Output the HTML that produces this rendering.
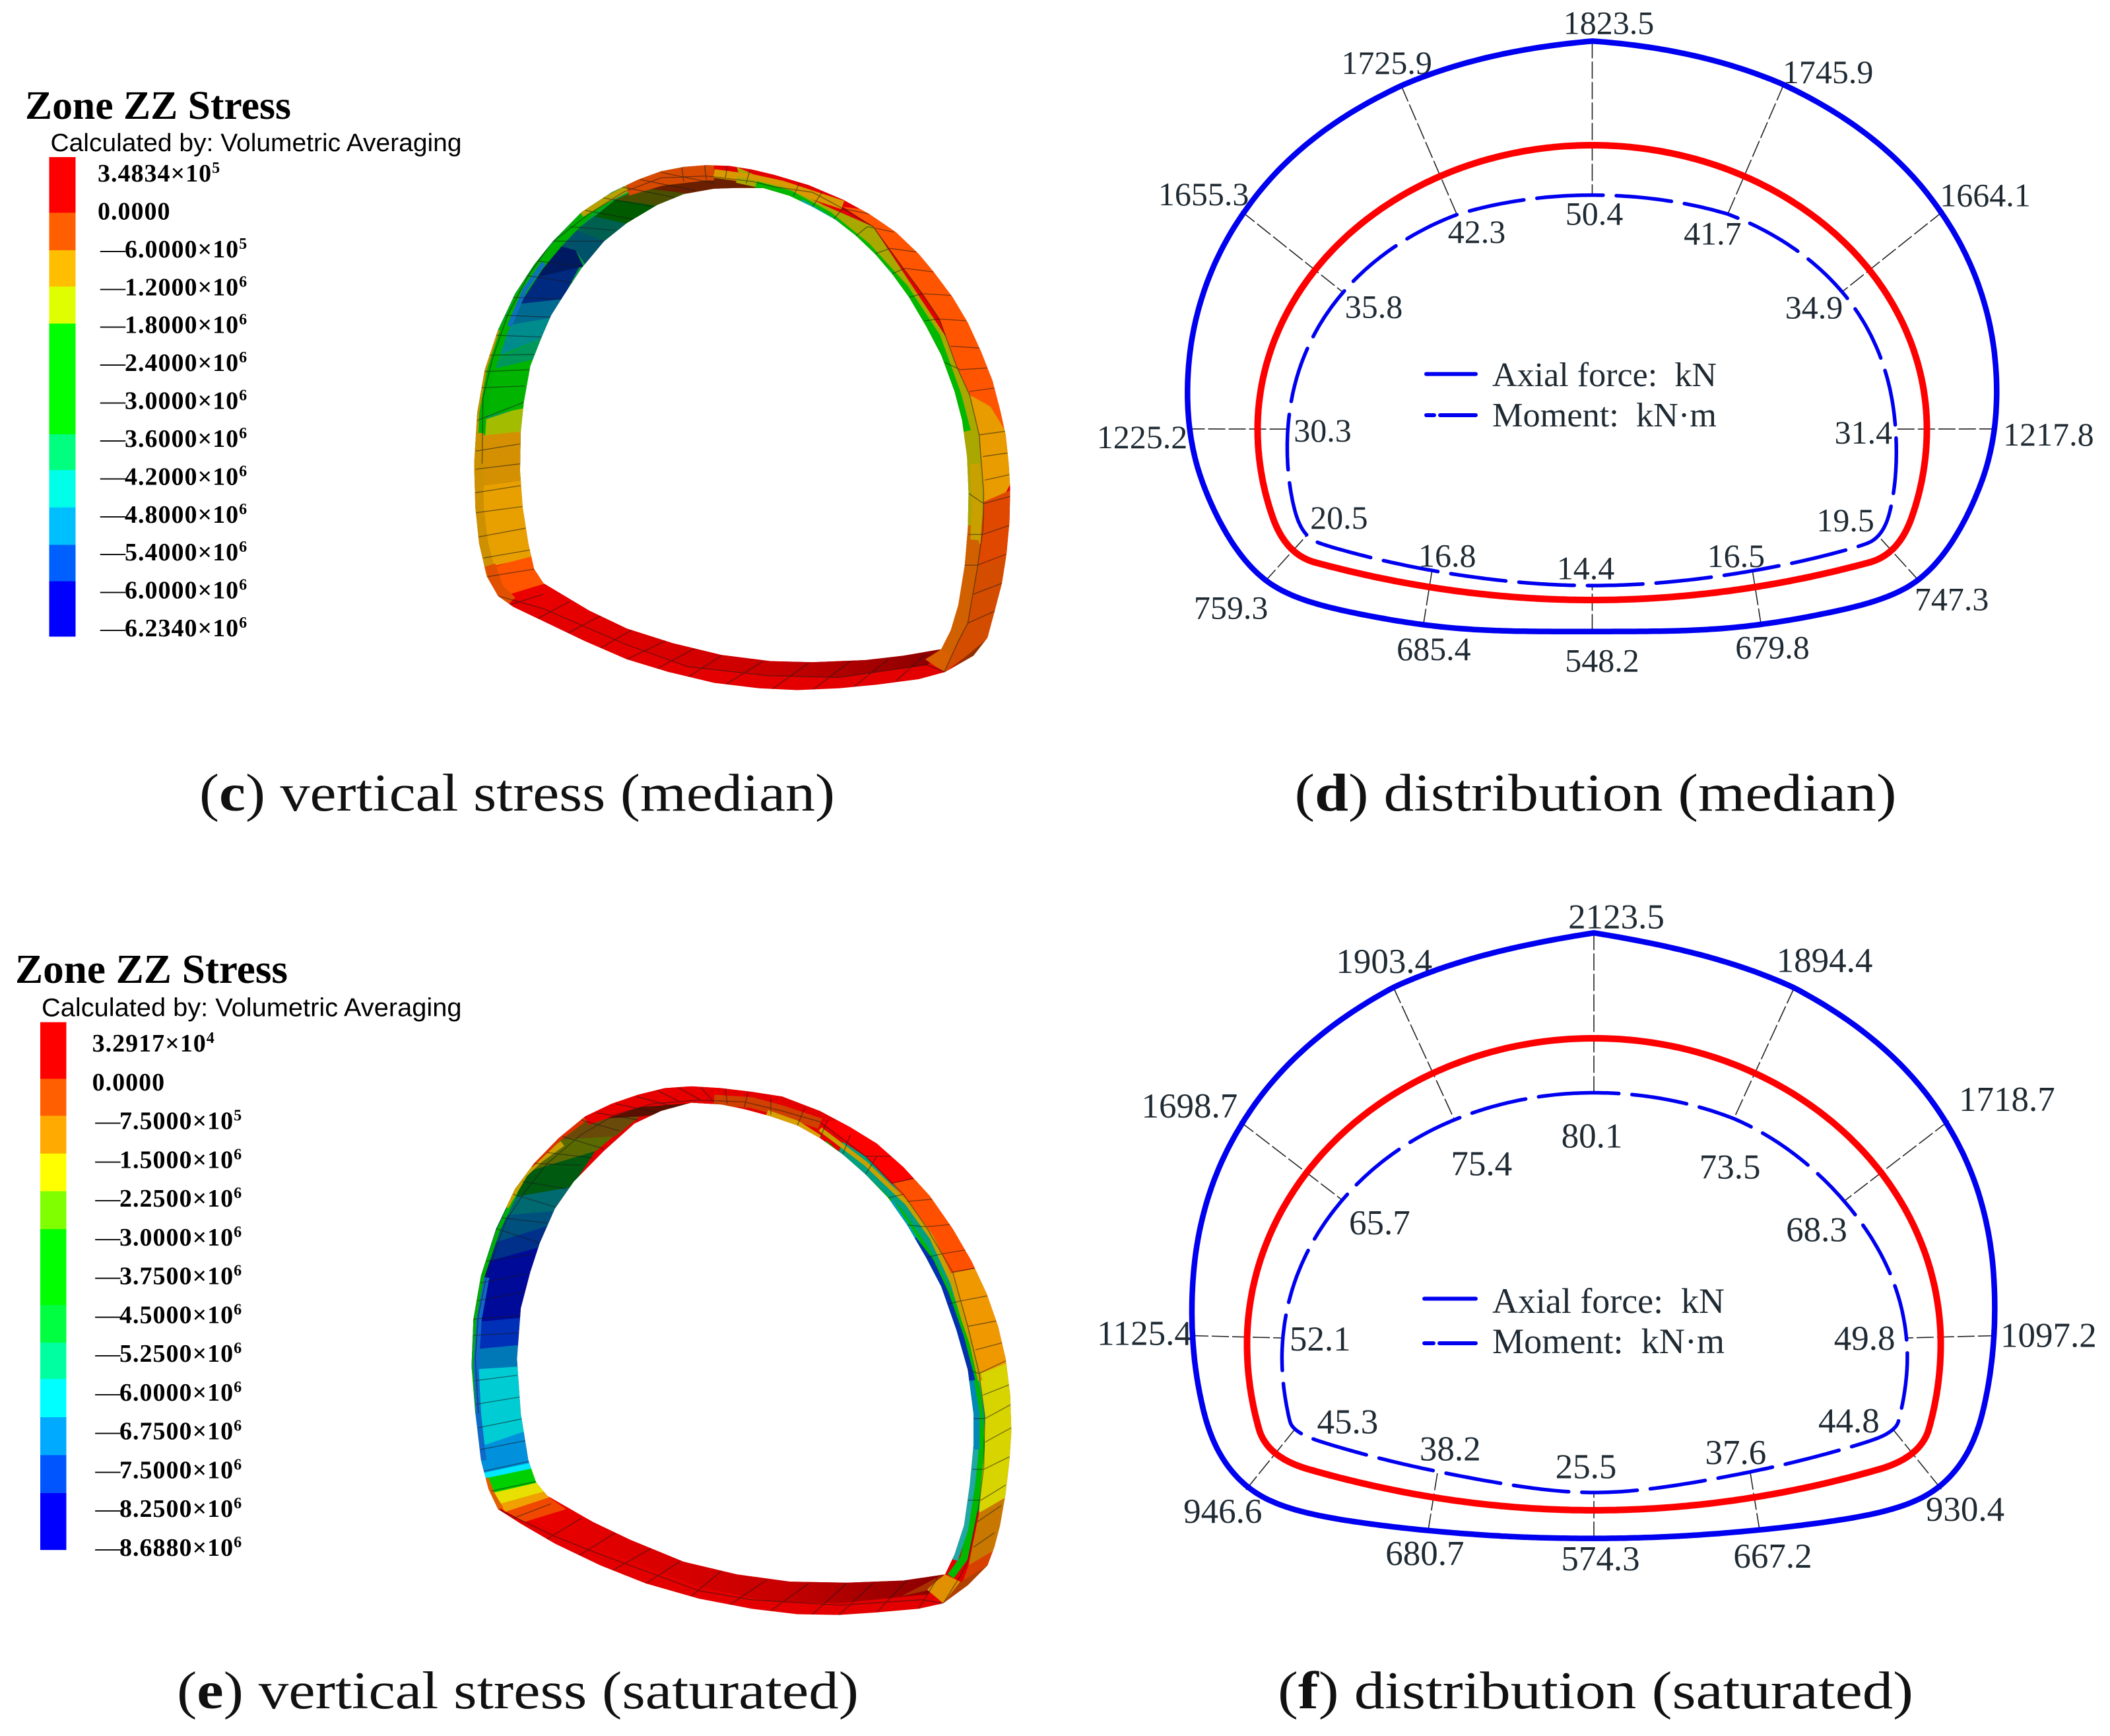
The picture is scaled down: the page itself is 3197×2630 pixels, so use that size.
<!DOCTYPE html>
<html lang="en">
<head>
<meta charset="utf-8">
<title>Tunnel lining stress and internal force distribution</title>
<style>
html,body{margin:0;padding:0;background:#fff}
svg{display:block}
.lbl{font-family:"Liberation Serif",serif;fill:#1f2a33;text-anchor:middle}
.cap{font-family:"Liberation Serif",serif;font-size:80px;fill:#111}
.leg{font-family:"Liberation Serif",serif;fill:#1f2a33}
.title{font-family:"Liberation Serif",serif;font-weight:bold;fill:#000}
.sub{font-family:"Liberation Sans",sans-serif;fill:#000}
.scale{font-family:"Liberation Serif",serif;font-weight:bold;font-size:38px;letter-spacing:1px;fill:#000}
</style>
</head>
<body>
<svg id="fig" xmlns="http://www.w3.org/2000/svg" width="3197" height="2630" viewBox="0 0 3197 2630">
<defs>
<linearGradient id="floorC" gradientUnits="userSpaceOnUse" x1="250" y1="0" x2="1280" y2="0"><stop offset="0" stop-color="#ea0000"/><stop offset=".6" stop-color="#c80000"/><stop offset="1" stop-color="#8c0000"/></linearGradient>
<clipPath id="clipC"><path clip-rule="evenodd" d="M680 55L740 57 800 67 860 82 950 110 1040 150 1110 190 1180 240 1240 300 1280 350 1330 420 1370 490 1405 570 1435 650 1455 730 1470 800 1478 880 1482 950 1480 1040 1472 1130 1460 1210 1440 1290 1422 1360 1385 1410 1310 1455 1240 1475 1130 1490 1030 1500 920 1505 820 1500 700 1485 580 1455 470 1420 360 1370 250 1315 170 1275 130 1245 100 1190 80 1100 70 1000 67 880 75 740 95 620 130 510 175 410 225 330 275 265 350 185 430 130 500 95 560 72 620 60ZM700 120L620 135 550 165 470 215 410 265 350 340 300 420 270 470 245 530 215 610 198 710 190 790 188 900 195 1000 210 1100 225 1170 250 1210 370 1285 470 1335 590 1375 720 1408 850 1425 960 1428 1100 1422 1200 1410 1300 1392 1325 1340 1345 1270 1362 1160 1370 1060 1372 960 1368 860 1355 760 1335 680 1300 580 1260 500 1215 420 1170 355 1125 300 1075 250 1020 205 960 170 900 140 830 118 760 118Z"/></clipPath>
<clipPath id="clipE"><path clip-rule="evenodd" d="M640 47L720 52 800 62 880 75 980 115 1060 160 1130 205 1200 270 1270 350 1330 440 1380 530 1420 620 1450 710 1470 800 1482 900 1485 1000 1480 1080 1470 1170 1455 1260 1440 1320 1422 1370 1370 1425 1305 1475 1240 1490 1130 1500 1030 1507 920 1505 800 1490 660 1462 520 1420 400 1370 280 1310 190 1255 130 1215 105 1160 85 1080 70 950 60 820 65 690 85 570 125 440 175 330 225 260 290 190 360 130 430 95 500 70 570 52ZM720 97L640 92 560 115 490 150 410 225 330 310 280 385 240 480 215 560 190 660 180 800 190 950 210 1080 230 1140 260 1178 380 1250 480 1300 620 1360 760 1395 900 1415 1050 1418 1200 1412 1310 1395 1335 1340 1360 1260 1375 1150 1385 1040 1385 950 1370 830 1340 720 1300 600 1260 520 1210 430 1160 355 1100 290 1040 235 980 190 920 155 850 130 780 110Z"/></clipPath>
</defs>
<rect width="3197" height="2630" fill="#fff"/>

<g id="legendC">
<text class="title" x="38" y="180" font-size="61" textLength="403" lengthAdjust="spacingAndGlyphs">Zone ZZ Stress</text>
<text class="sub" x="76.5" y="229" font-size="38" textLength="623" lengthAdjust="spacingAndGlyphs">Calculated by: Volumetric Averaging</text>
</g>
<g id="legendE">
<text class="title" x="23" y="1489" font-size="62" textLength="413" lengthAdjust="spacingAndGlyphs">Zone ZZ Stress</text>
<text class="sub" x="63" y="1539.4" font-size="39" textLength="636.5" lengthAdjust="spacingAndGlyphs">Calculated by: Volumetric Averaging</text>
</g>

<g transform="translate(680 220) scale(.574 .5485)">
<g clip-path="url(#clipC)">
<rect x="0" y="0" width="1560" height="1560" fill="#e40000"/>
<path fill="#00a040" d="M0 0L640 0 640 140 500 700 260 1000 0 800Z"/>
<path fill="#a8a800" d="M760 60L1120 225 1420 700 1420 1180 1250 1180 1250 700 800 200Z"/>
<path fill="#d06000" d="M1250 1050L1420 1050 1420 1400 1250 1400Z"/>
<path fill="url(#floorC)" d="M140 1240L250 1205 370 1280 590 1370 850 1420 1100 1418 1300 1388 1265 1435 1030 1470 840 1465 630 1440 470 1380 250 1280Z"/>
<g>
<path fill="#ff5500" d="M90 1175L222 1130 262 1208 130 1250Z"/>
<path fill="#e8a000" d="M70 920L205 900 222 1135 110 1165Z"/>
<path fill="#d49000" d="M60 805L200 785 205 925 60 945Z"/>
<path fill="#a4bc00" d="M60 770L205 720 200 790 60 805Z"/>
<path fill="#00b400" d="M60 620L230 585 205 725 60 755Z"/>
<path fill="#00985a" d="M90 615L255 525 230 590 90 625Z"/>
<path fill="#008c8c" d="M110 590L150 480 285 465 250 530Z"/>
<path fill="#006a90" d="M140 500L180 425 310 415 280 475Z"/>
<path fill="#002a80" d="M170 440L215 360 345 335 300 425Z"/>
<path fill="#001a62" d="M210 370L280 270 335 290 355 335Z"/>
<path fill="#00526a" d="M280 275L335 232 425 265 360 330 335 290Z"/>
<path fill="#006050" d="M335 235L385 195 475 215 425 270Z"/>
<path fill="#005a00" d="M385 197L440 150 555 165 475 218Z"/>
<path fill="#4a4f00" d="M440 150L510 118 645 130 555 168Z"/>
<path fill="#6a2000" d="M510 118L560 90 700 85 860 125 640 135Z"/>
</g>
<g>
<path fill="#ff5500" d="M1040 170L1115 180 1300 330 1500 760 1470 790 1430 722 1375 690 1340 610 1295 480 1250 410 1200 340 1120 225Z"/>
<path fill="#e89c00" d="M1375 690L1430 722 1470 790 1500 900 1470 960 1412 985 1400 800Z"/>
<path fill="#e04800" d="M1412 985L1500 945 1490 1130 1398 1165Z"/>
<path fill="#d44c00" d="M1398 1165L1490 1130 1450 1300 1425 1365 1310 1455 1345 1370 1370 1320Z"/>
<path fill="#903000" d="M1430 1355L1385 1420 1310 1460Z"/>
<path fill="#d86000" d="M1258 1420L1300 1392 1345 1370 1310 1455 1285 1440Z"/>
</g>
<g fill="none" stroke-linejoin="round">
<path stroke="#00b000" stroke-width="24" d="M84 800L88 740 108 625 143 515 188 415 238 335 288 272 358 195 425 145"/>
<path stroke="#1070c0" stroke-width="12" d="M160 500L200 400 250 325"/>
<path stroke="#c89000" stroke-width="9" d="M70 880L76 740 96 620 130 510"/>
<path stroke="#cc9000" stroke-width="28" d="M78 795L78 1000 90 1100 112 1190"/>
<path stroke="#e05000" stroke-width="30" d="M108 1160L130 1225 165 1260"/>
<path stroke="#b8a000" stroke-width="18" d="M350 190L425 145 490 110"/>
<path stroke="#d84a00" stroke-width="44" d="M470 118L560 90 680 75 700 75"/>
<path stroke="#d89a00" stroke-width="24" d="M700 78L800 92 880 110 1040 165"/>
<path stroke="#a8a800" stroke-width="18" d="M760 95L880 122 980 170 1090 262 1190 370 1280 500 1340 640 1378 780 1395 900"/>
<path stroke="#00b800" stroke-width="26" d="M810 112L900 138 1000 195 1100 280 1200 395 1285 530 1340 690 1365 790"/>
<path stroke="#00a8a0" stroke-width="14" d="M930 155L1020 212 1100 288 1165 358"/>
<path stroke="#c8a000" stroke-width="28" d="M1390 880L1394 1000 1390 1100"/>
<path stroke="#d06000" stroke-width="30" d="M1385 1090L1370 1220 1340 1345 1310 1400"/>
</g>
<path fill="none" stroke="#1a1a1a" stroke-opacity=".55" stroke-width="2.4" d="M1040 175L1120 225 1200 340 1250 410 1295 480 1340 610 1375 690 1400 800 1412 960 1410 1060 1395 1170 1370 1320 1345 1370 1308 1455M88 880L90 700 115 590 155 470 210 360 270 270 370 190 460 130 560 90 680 85 800 100 860 115 960 130 1040 175M130 1245L250 1280 470 1380 630 1440 840 1465 1030 1470 1260 1435 1310 1455M70 845L188 825M70 895L188 880M70 960L190 940M72 1015L195 998M78 1082L202 1058M92 1140L214 1118M100 1192L230 1170M75 760L198 710M85 670L200 665M95 625L215 620M105 580L225 578M125 525L250 530M150 470L275 475M170 420L300 425M205 360L330 380M235 320L350 335M275 265L415 265M320 225L440 235M360 180L490 205M405 145L540 170M455 115L600 145M505 95L650 125M560 75L700 105M615 60L620 100M675 55L680 95M735 58L730 92M795 68L785 105M1040 175L1110 190M1105 225L1175 240M1165 285L1235 295M1205 340L1280 350M1250 410L1330 415M1295 480L1365 485M1325 555L1400 560M1350 620L1425 615M1375 680L1445 670M1400 800L1470 790M1410 860L1475 850M1415 925L1480 910M1412 990L1482 970M1410 1075L1480 1050M1395 1160L1470 1130M1385 1240L1460 1210M1370 1320L1445 1285M910 140L925 105M960 170L985 130M1015 205L1040 175M1075 250L1105 225M1125 300L1165 285M1170 355L1205 340M1215 420L1250 410M1255 485L1295 480M1310 600L1350 620M1370 960L1412 990M1372 1075L1410 1075M1362 1160L1395 1160M160 1270L250 1240M230 1310L320 1260M310 1350L400 1300M390 1395L490 1335M470 1420L580 1365M550 1445L650 1390M630 1470L720 1410M730 1490L830 1425M850 1505L950 1430M960 1505L1060 1425M1070 1495L1160 1420M1180 1480L1260 1405"/>
</g>
</g>

<g transform="translate(680 1620) scale(.574 .5485)">
<g clip-path="url(#clipE)">
<rect x="0" y="0" width="1560" height="1560" fill="#e40000"/>
<path fill="#00a080" d="M1040 200L1230 330 1420 700 1420 1180 1300 1400 1250 1400 1250 700 1000 300Z"/>
<path fill="url(#floorC)" d="M130 1215L265 1180 380 1245 620 1355 900 1410 1200 1408 1310 1390 1265 1450 1030 1475 850 1470 660 1430 400 1325 190 1235Z"/>
<g>
<path fill="#f04800" d="M140 1215L250 1172 310 1215 200 1250Z"/>
<path fill="#f0a000" d="M120 1190L250 1155 265 1182 150 1222Z"/>
<path fill="#e8e000" d="M105 1165L240 1135 255 1165 135 1200Z"/>
<path fill="#00d000" d="M95 1125L228 1095 240 1140 115 1170Z"/>
<path fill="#00e8ff" d="M90 1112L220 1085 230 1100 95 1130Z"/>
<path fill="#0090dc" d="M60 1045L215 990 225 1085 90 1115Z"/>
<path fill="#00ccd4" d="M50 825L200 815 215 995 60 1050Z"/>
<path fill="#0078b8" d="M50 770L200 755 200 820 50 830Z"/>
<path fill="#0030b8" d="M50 695L205 680 200 760 50 775Z"/>
<path fill="#000a98" d="M60 530L245 485 205 685 50 700Z"/>
<path fill="#00308a" d="M100 480L270 425 245 490 70 540Z"/>
<path fill="#00507e" d="M130 400L295 385 270 430 100 485Z"/>
<path fill="#006a70" d="M160 350L325 320 295 390 130 405Z"/>
<path fill="#005a10" d="M200 280L390 220 325 325 160 355Z"/>
<path fill="#5a6a00" d="M280 190L440 180 390 225 200 285Z"/>
<path fill="#6a4a08" d="M340 135L510 125 440 185 280 195Z"/>
<path fill="#5a1000" d="M480 90L740 80 760 100 510 130 340 140Z"/>
</g>
<g>
<path fill="#ff0000" d="M980 145L1060 140 1260 320 1170 318 1100 240Z"/>
<path fill="#ff5000" d="M1170 315L1250 298 1420 540 1320 565 1260 435Z"/>
<path fill="#f09800" d="M1320 565L1410 545 1500 800 1398 842 1370 710Z"/>
<path fill="#d8d400" d="M1398 842L1500 800 1500 1170 1400 1225 1415 960Z"/>
<path fill="#c87800" d="M1400 1225L1490 1170 1470 1310 1372 1370Z"/>
<path fill="#d84000" d="M1372 1370L1470 1310 1420 1380 1355 1420Z"/>
<path fill="#b04000" d="M1422 1370L1370 1425 1305 1475 1345 1420Z"/>
<path fill="#e09000" d="M1260 1435L1310 1395 1350 1415 1305 1475Z"/>
<path fill="#a83000" d="M1195 1455L1305 1395 1260 1440Z"/>
</g>
<g fill="none" stroke-linejoin="round">
<path stroke="#00b000" stroke-width="10" d="M72 950L66 820 70 690 90 570 130 445 178 340"/>
<path stroke="#1068c8" stroke-width="14" d="M92 1080L78 950 72 820 80 690 100 575"/>
<path stroke="#c8a000" stroke-width="16" d="M150 380L200 290 240 250 300 205"/>
<path stroke="#e03000" stroke-width="16" d="M215 265L290 190 360 135"/>
<path stroke="#e80000" stroke-width="50" d="M360 130L430 105 500 80 640 68 720 72"/>
<path stroke="#d04000" stroke-width="30" d="M700 85L800 92 880 115 980 150"/>
<path stroke="#d8a000" stroke-width="16" d="M840 120L920 150 980 190"/>
<path stroke="#c8a000" stroke-width="12" d="M980 165L1100 260 1210 370 1275 465 1330 590 1370 730 1403 860"/>
<path stroke="#00b800" stroke-width="20" d="M990 205L1090 295 1190 395 1265 510 1320 625 1365 760 1395 900 1405 1040 1390 1200 1360 1350 1325 1400"/>
<path stroke="#00a0c0" stroke-width="16" d="M1165 365L1210 435 1265 530"/>
<path stroke="#0030b0" stroke-width="20" d="M1225 470L1270 530 1310 620 1350 740 1380 860"/>
<path stroke="#0088b8" stroke-width="18" d="M1378 860L1392 950 1392 1050"/>
<path stroke="#20a8a8" stroke-width="18" d="M1390 1050L1380 1150 1362 1270 1335 1355"/>
<path stroke="#e06000" stroke-width="20" d="M95 1130L112 1175 135 1215"/>
</g>
<path fill="none" stroke="#1a1a1a" stroke-opacity=".55" stroke-width="2.4" d="M980 145L1100 240 1200 345 1260 435 1330 560 1370 710 1400 840 1415 960 1412 1100 1400 1200 1370 1360 1350 1400 1305 1475M78 950L70 800 78 680 100 570 150 420 200 340 260 260 350 180 440 125 540 95 660 85 780 90 880 115 980 145M130 1215L280 1290 400 1340 660 1440 800 1465 1030 1480 1250 1465 1305 1475M70 860L180 845M72 925L188 905M78 990L195 965M85 1050L205 1025M92 1110L215 1082M112 1165L232 1138M65 735L182 728M65 690L190 680M72 640L195 615M85 590L205 565M100 530L225 510M125 440L240 480M140 410L260 425M170 345L295 385M195 310L310 330M225 260L350 265M260 230L380 245M300 185L410 220M350 140L450 170M390 120L500 140M440 95L555 120M495 75L600 105M550 58L610 90M605 50L665 85M665 50L700 90M730 52L735 95M790 62L780 105M850 80L850 125M1100 240L1170 240M1170 315L1230 300M1210 365L1285 358M1260 435L1330 428M1300 510L1370 498M1330 560L1395 548M1350 640L1425 625M1370 710L1445 695M1390 775L1462 755M1400 840L1470 805M1410 900L1482 870M1415 965L1485 925M1415 1030L1485 990M1412 1105L1480 1070M1405 1190L1470 1148M1395 1250L1458 1205M1385 1320L1440 1280M920 155L940 105M980 190L1000 140M1040 235L1060 180M1100 290L1130 240M1160 355L1200 345M1210 430L1260 435M1260 520L1300 510M1310 650L1350 640M1370 830L1400 840M1385 965L1415 965M1382 1105L1412 1105M1370 1190L1405 1190M170 1240L270 1200M255 1300L350 1240M340 1345L440 1280M430 1385L540 1320M520 1420L610 1360M640 1455L720 1385M740 1480L840 1410M850 1495L950 1420M960 1505L1050 1420M1030 1507L1120 1420M1130 1500L1210 1410M1240 1490L1290 1405"/>
</g>
</g>

<g><text class="cap" x="302" y="1228" textLength="963" lengthAdjust="spacingAndGlyphs">(<tspan font-weight="bold">c</tspan>) vertical stress (median)</text></g>
<g><text class="cap" x="1961.5" y="1228" textLength="912" lengthAdjust="spacingAndGlyphs">(<tspan font-weight="bold">d</tspan>) distribution (median)</text></g>
<g><text class="cap" x="268" y="2588" textLength="1033" lengthAdjust="spacingAndGlyphs">(<tspan font-weight="bold">e</tspan>) vertical stress (saturated)</text></g>
<g><text class="cap" x="1936" y="2588" textLength="963" lengthAdjust="spacingAndGlyphs">(<tspan font-weight="bold">f</tspan>) distribution (saturated)</text></g>

<g id="panelD"></g>
<g id="panelF"></g>

<g>
<line x1="2161" y1="566.6" x2="2236" y2="566.6" stroke="#0000f0" stroke-width="6" stroke-linecap="round"/>
<text class="leg" x="2261" y="585" font-size="52" textLength="340" lengthAdjust="spacingAndGlyphs" xml:space="preserve">Axial force:  kN</text>
<path d="M2161 629H2236" stroke="#0000f0" stroke-width="6" stroke-linecap="round" stroke-dasharray="12 9 60 0" fill="none"/>
<text class="leg" x="2261" y="646" font-size="52" textLength="340" lengthAdjust="spacingAndGlyphs" xml:space="preserve">Moment:  kN·m</text>
</g>
<g>
<line x1="2158" y1="1967.5" x2="2236" y2="1967.5" stroke="#0000f0" stroke-width="6" stroke-linecap="round"/>
<text class="leg" x="2261" y="1989" font-size="54" textLength="352" lengthAdjust="spacingAndGlyphs" xml:space="preserve">Axial force:  kN</text>
<path d="M2158 2035H2236" stroke="#0000f0" stroke-width="6" stroke-linecap="round" stroke-dasharray="14 9 60 0" fill="none"/>
<text class="leg" x="2261" y="2050" font-size="54" textLength="352" lengthAdjust="spacingAndGlyphs" xml:space="preserve">Moment:  kN·m</text>
</g>
</svg>

<script>
// ---- data ----
const stationNames = ["crown","upper-left","shoulder-left","wall-left","corner-left","invert-left","bottom","invert-right","corner-right","wall-right","shoulder-right","upper-right"];
const medianStationAngles = [0,31,60,90,112,134,180,226,248,270,300,329];
const saturatedStationAngles = [0,31,59,88.7,109,134,180,226,251,271.3,301,329];
const medianAxial = [1823.5,1725.9,1655.3,1225.2,759.3,685.4,548.2,679.8,747.3,1217.8,1664.1,1745.9];
const medianMoment = [50.4,42.3,35.8,30.3,20.5,16.8,14.4,16.5,19.5,31.4,34.9,41.7];
const saturatedAxial = [2123.5,1903.4,1698.7,1125.4,946.6,680.7,574.3,667.2,930.4,1097.2,1718.7,1894.4];
const saturatedMoment = [80.1,75.4,65.7,52.1,45.3,38.2,25.5,37.6,44.8,49.8,68.3,73.5];

const medianScaleLabels = ["3.4834","0.0000","6.0000","1.2000","1.8000","2.4000","3.0000","3.6000","4.2000","4.8000","5.4000","6.0000","6.2340"];
const medianScaleExponents = ["5","","5","6","6","6","6","6","6","6","6","6","6"];
const medianScaleSigns = ["","","-","-","-","-","-","-","-","-","-","-","-"];
const medianBandColors = ["#ff0000","#ff5f00","#ffbf00","#dfff00","#00ff00","#00ff7f","#00ffe8","#00bfff","#005fff","#0000ff"];
const medianBandEnds = [0,0.1161,0.1943,0.2703,0.3474,0.5784,0.6530,0.7310,0.8092,0.8852,1];

const saturatedScaleLabels = ["3.2917","0.0000","7.5000","1.5000","2.2500","3.0000","3.7500","4.5000","5.2500","6.0000","6.7500","7.5000","8.2500","8.6880"];
const saturatedScaleExponents = ["4","","5","6","6","6","6","6","6","6","6","6","6","6"];
const saturatedScaleSigns = ["","","-","-","-","-","-","-","-","-","-","-","-","-"];
const saturatedBandColors = ["#ff0000","#ff5f00","#ffaa00","#ffff00","#7fff00","#00ff00","#00ff40","#00ffa0","#00ffff","#00aaff","#0055ff","#0000ff"];
const saturatedBandEnds = [0,0.1073,0.1774,0.2491,0.3204,0.3923,0.5362,0.6075,0.6763,0.7489,0.8208,0.8928,1];

// ---- layout (not data) ----
const medianLayout = {cx:2412.5,cy:650,a:507,bTop:430,bWall:450,wallY:134,cornerX:420,depth:259,drop:57,axialScale:0.0865,momentScale:1.5,fontSize:50};
const saturatedLayout = {cx:2415,cy:2036,a:525.5,bTop:463,bWall:496,wallY:129,cornerX:432,depth:252,drop:62,axialScale:0.0752,momentScale:1.03,fontSize:53};
const medianAxialLabelShift = [[25,-11],[-22,-18],[-57,-9],[-69,29],[-50,55],[16,52],[15,61],[17,50],[48,43],[79,25],[63,-7],[67,-2]];
const medianMomentLabelShift = [[3,45],[30,43],[47,39],[53,19],[49,-10],[23,-6],[-10,-10],[-25,-6],[-50,-7],[-49,22],[-43,41],[-23,46]];
const saturatedAxialLabelShift = [[34,-7],[-14,-22],[-76,-6],[-71,14],[-35,50],[-5,52],[10,48],[20,57],[36,48],[81,17],[88,-15],[46,-24]];
const saturatedMomentLabelShift = [[-3,83],[41,84],[57,52],[57,19],[80,6],[19,-17],[-12,-22],[-22,-12],[-67,4],[-64,18],[-42,61],[-6,91]];

const NS = "http://www.w3.org/2000/svg";
function svgEl(tag, parent){
  const el = document.createElementNS(NS, tag);
  parent.appendChild(el);
  return el;
}

// Tunnel lining: elliptical crown, elliptical wall, rounded corner, shallow parabolic invert.
function liningOutline(g){
  const left = [];
  for(let i=0;i<=140;i++){
    const p = i/140*Math.PI/2;
    left.push([-g.a*Math.sin(p), -g.bTop*Math.cos(p)]);
  }
  const psiEnd = Math.asin(g.wallY/g.bWall);
  for(let i=1;i<=40;i++){
    const s = i/40*psiEnd;
    left.push([-g.a*Math.cos(s), g.bWall*Math.sin(s)]);
  }
  const p0 = left[left.length-1];
  const p2 = [-g.cornerX, g.depth-g.drop];
  const t0 = [g.a*Math.sin(psiEnd), g.bWall*Math.cos(psiEnd)];
  const t2 = [1, 2*g.drop/g.cornerX];
  const det = t0[0]*t2[1]-t0[1]*t2[0];
  const s = ((p2[0]-p0[0])*t2[1]-(p2[1]-p0[1])*t2[0])/det;
  const ctrl = [p0[0]+s*t0[0], p0[1]+s*t0[1]];
  for(let i=1;i<=40;i++){
    const t = i/40, m = 1-t;
    left.push([m*m*p0[0]+2*m*t*ctrl[0]+t*t*p2[0], m*m*p0[1]+2*m*t*ctrl[1]+t*t*p2[1]]);
  }
  for(let i=1;i<=80;i++){
    const x = -g.cornerX*(1-i/80);
    left.push([x, g.depth-g.drop*Math.pow(x/g.cornerX,2)]);
  }
  const right = left.slice(1,-1).reverse().map(function(p){return [-p[0],p[1]];});
  return left.concat(right);
}

function stationSlope(vals, A, i){
  if(i===6) return 0;
  if(i===1) return (vals[2]-vals[1])/(A[2]-A[1]);
  if(i===11) return (vals[11]-vals[10])/(A[11]-A[10]);
  return (vals[i+1]-vals[i-1])/(A[i+1]-A[i-1]);
}

// Value at polar angle th (degrees from crown) between the labelled stations.
// The axial force peaks sharply at the crown, the moment rounds over it.
function valueAt(th, vals, A, sharpCrown){
  const crownEase = function(u){ return sharpCrown ? 1-Math.pow(1-u,3) : u*u; };
  if(th<=A[1]) return vals[0]+(vals[1]-vals[0])*crownEase(th/A[1]);
  if(th>=A[11]) return vals[0]+(vals[11]-vals[0])*crownEase((360-th)/(360-A[11]));
  let i = 1;
  while(i<10 && th>A[i+1]) i++;
  const h = A[i+1]-A[i], t = (th-A[i])/h;
  const t2 = t*t, t3 = t2*t;
  return (2*t3-3*t2+1)*vals[i]+(t3-2*t2+t)*h*stationSlope(vals,A,i)+(-2*t3+3*t2)*vals[i+1]+(t3-t2)*h*stationSlope(vals,A,i+1);
}

// Eases the tight lining corner out of the offset curves, fading to none towards the crown.
function relaxCurve(pts, frames, win){
  const n = pts.length;
  return pts.map(function(p,i){
    const fromCrown = Math.min(frames[i].th, 360-frames[i].th);
    const w = Math.max(0, Math.min(1, (fromCrown-30)/30));
    if(w===0) return p;
    let sx = 0, sy = 0;
    for(let k=-win;k<=win;k++){
      const q = pts[(i+k+n)%n];
      sx += q[0]; sy += q[1];
    }
    sx /= 2*win+1; sy /= 2*win+1;
    return [p[0]+(sx-p[0])*w, p[1]+(sy-p[1])*w];
  });
}

function drawPanel(root, g, angles, axial, moment, axialShift, momentShift){
  const line = liningOutline(g);
  const n = line.length;
  const frames = line.map(function(p,i){
    const a = line[(i-1+n)%n], b = line[(i+1)%n];
    const dx = b[0]-a[0], dy = b[1]-a[1], len = Math.hypot(dx,dy)||1;
    let th = Math.atan2(-p[0],-p[1])*180/Math.PI;
    if(th<0) th += 360;
    return {x:p[0]+g.cx, y:p[1]+g.cy, nx:-dy/len, ny:dx/len, th:th};
  });
  const offsetPoint = function(f, d){ return [f.x+f.nx*d, f.y+f.ny*d]; };
  const toPath = function(pts){ return "M"+pts.map(function(p){return p[0].toFixed(1)+" "+p[1].toFixed(1);}).join("L")+"Z"; };
  const axialPts = relaxCurve(frames.map(function(f){ return offsetPoint(f, valueAt(f.th,axial,angles,true)*g.axialScale); }), frames, 16);
  const momentPts = relaxCurve(frames.map(function(f){ return offsetPoint(f, -valueAt(f.th,moment,angles,false)*g.momentScale); }), frames, 8);

  angles.forEach(function(angle, i){
    let best = frames[0], bestD = 1e9;
    frames.forEach(function(f){
      let d = Math.abs(f.th-angle);
      if(d>180) d = 360-d;
      if(d<bestD){ bestD = d; best = f; }
    });
    const pa = offsetPoint(best, axial[i]*g.axialScale);
    const pm = offsetPoint(best, -moment[i]*g.momentScale);

    const leader = svgEl("line", root);
    
    
    leader.setAttribute("x1", pa[0]); leader.setAttribute("y1", pa[1]);
    leader.setAttribute("x2", pm[0]); leader.setAttribute("y2", pm[1]);
    leader.setAttribute("stroke", "#222");
    leader.setAttribute("stroke-width", "1.6");
    leader.setAttribute("stroke-dasharray", "26 5");

    const ta = svgEl("text", root);
    
    
    ta.setAttribute("class", "lbl");
    ta.setAttribute("font-size", g.fontSize);
    ta.setAttribute("x", pa[0]+axialShift[i][0]);
    ta.setAttribute("y", pa[1]+axialShift[i][1]);
    ta.textContent = axial[i].toFixed(1);

    const tm = svgEl("text", root);
    
    
    tm.setAttribute("class", "lbl");
    tm.setAttribute("font-size", g.fontSize);
    tm.setAttribute("x", pm[0]+momentShift[i][0]);
    tm.setAttribute("y", pm[1]+momentShift[i][1]);
    tm.textContent = moment[i].toFixed(1);
  });

  const axialCurve = svgEl("path", root);
  
  
  axialCurve.setAttribute("d", toPath(axialPts));
  axialCurve.setAttribute("fill", "none");
  axialCurve.setAttribute("stroke", "#0000f0");
  axialCurve.setAttribute("stroke-width", "8.5");
  axialCurve.setAttribute("stroke-linejoin", "round");

  const liningCurve = svgEl("path", root);
  
  
  liningCurve.setAttribute("d", toPath(frames.map(function(f){return [f.x,f.y];})));
  liningCurve.setAttribute("fill", "none");
  liningCurve.setAttribute("stroke", "#ff0000");
  liningCurve.setAttribute("stroke-width", "10");

  const momentCurve = svgEl("path", root);
  
  
  momentCurve.setAttribute("d", toPath(momentPts));
  momentCurve.setAttribute("fill", "none");
  momentCurve.setAttribute("stroke", "#0000f0");
  momentCurve.setAttribute("stroke-width", "5.5");
  momentCurve.setAttribute("stroke-linecap", "round");
  momentCurve.setAttribute("stroke-dasharray", "84 20");
}

function drawScale(root, colors, ends, x, w, top, bottom, labels, exps, signs, firstBase, lastBase, plainX, dashX, digitX){
  colors.forEach(function(c,i){
    const r = svgEl("rect", root);
    
    
    r.setAttribute("x", x);
    r.setAttribute("width", w);
    r.setAttribute("y", top+(bottom-top)*ends[i]);
    r.setAttribute("height", (bottom-top)*(ends[i+1]-ends[i])+0.5);
    r.setAttribute("fill", c);
  });
  labels.forEach(function(t,i){
    const y = firstBase+(lastBase-firstBase)*i/(labels.length-1);
    const el = svgEl("text", root);
    
    
    el.setAttribute("class", "scale");
    el.setAttribute("y", y);
    if(signs[i]){
      const d = svgEl("tspan", el);
      d.setAttribute("x", dashX);
      d.setAttribute("font-weight", "normal");
      d.textContent = "\u2014";
    }
    const main = svgEl("tspan", el);
    main.setAttribute("x", signs[i] ? digitX : plainX);
    main.textContent = t + (exps[i] ? "\u00d710" : "");
    if(exps[i]){
      const sup = svgEl("tspan", el);
      sup.setAttribute("dy", "-13");
      sup.setAttribute("font-size", "24");
      sup.textContent = exps[i];
    }
  });
}

drawPanel(document.getElementById("panelD"), medianLayout, medianStationAngles, medianAxial, medianMoment, medianAxialLabelShift, medianMomentLabelShift);
drawPanel(document.getElementById("panelF"), saturatedLayout, saturatedStationAngles, saturatedAxial, saturatedMoment, saturatedAxialLabelShift, saturatedMomentLabelShift);
drawScale(document.getElementById("legendC"), medianBandColors, medianBandEnds, 74.5, 40, 238, 964, medianScaleLabels, medianScaleExponents, medianScaleSigns, 275, 964, 148, 152, 189);
drawScale(document.getElementById("legendE"), saturatedBandColors, saturatedBandEnds, 61, 39.5, 1548.6, 2347.7, saturatedScaleLabels, saturatedScaleExponents, saturatedScaleSigns, 1593, 2357, 139.6, 144.4, 181);
</script>
</body>
</html>
